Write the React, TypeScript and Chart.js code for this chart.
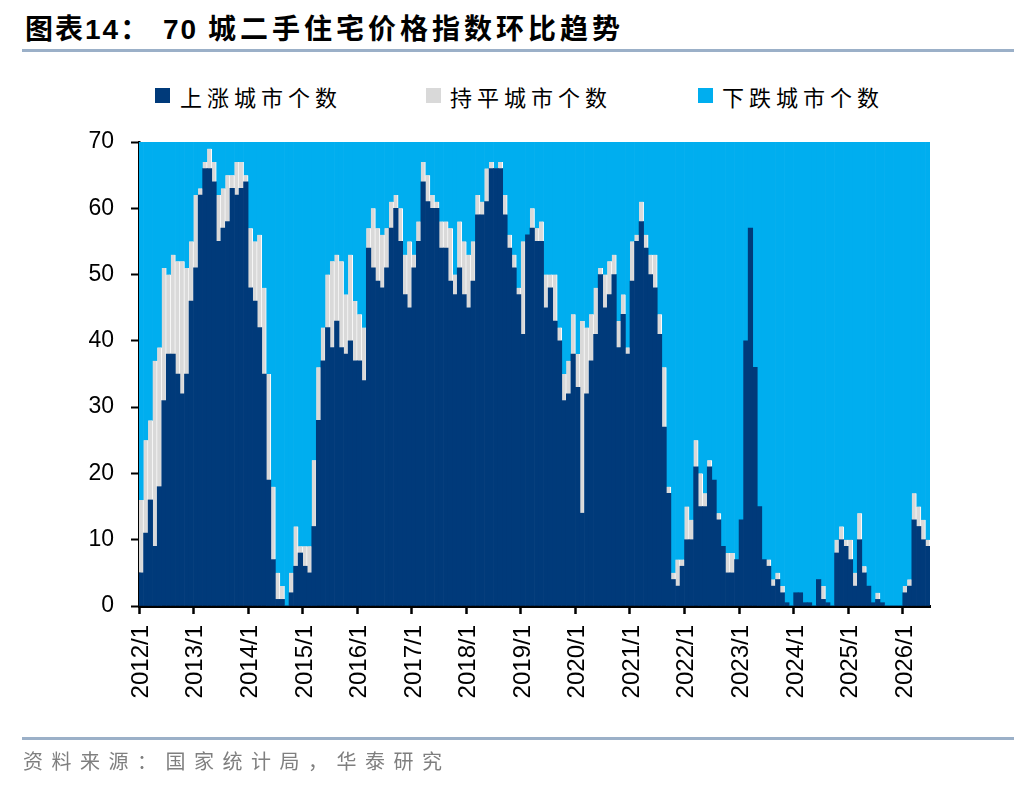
import React, { useEffect, useRef } from 'react';
import { Chart, registerables } from 'chart.js';

Chart.register(...registerables);

// monthly categories 2012/1 .. 2026/6
const YEARS = [2012, 2013, 2014, 2015, 2016, 2017, 2018, 2019, 2020, 2021, 2022, 2023, 2024, 2025, 2026];
const LAST_MONTH = 6;
const LABELS: string[] = [];
YEARS.forEach((y) => {
    const end = y === 2026 ? LAST_MONTH : 12;
    for (let m = 1; m <= end; m++) LABELS.push(`${y}/${m}`);
});

const SERIES_NAMES = ['上涨城市个数', '持平城市个数', '下跌城市个数'];
const COLORS = ['#003A7A', '#D9D9D9', '#00AEEF'];
const Y_TICKS = [0, 10, 20, 30, 40, 50, 60, 70];

// 上涨城市个数
const RISE = [
    5, 11, 16, 9, 18, 31, 38, 38, 35, 32, 35, 46, // 2012
    51, 62, 66, 66, 64, 55, 57, 58, 63, 62, 63, 64, // 2013
    48, 46, 42, 35, 19, 7, 1, 1, 0, 2, 6, 8, // 2014
    6, 5, 12, 28, 37, 42, 39, 43, 39, 38, 40, 37, // 2015
    37, 34, 54, 51, 49, 48, 51, 57, 60, 55, 47, 45, // 2016
    51, 55, 64, 61, 60, 60, 54, 54, 49, 47, 51, 47, // 2017
    45, 49, 59, 59, 61, 66, 66, 66, 59, 54, 51, 47, // 2018
    41, 56, 57, 55, 55, 45, 48, 43, 40, 31, 32, 38, // 2019
    33, 14, 32, 37, 41, 50, 45, 47, 50, 39, 44, 38, // 2020
    49, 55, 58, 54, 50, 48, 41, 27, 17, 4, 3, 6, // 2021
    10, 10, 21, 15, 15, 21, 19, 13, 9, 5, 5, 7, // 2022
    13, 40, 57, 36, 15, 7, 6, 3, 4, 2, 0.5, 0, // 2023
    2, 2, 0.5, 0.5, 0, 4, 1, 0.5, 0, 8, 10, 9, // 2024
    7, 3, 10, 5, 3, 0.5, 1, 0.5, 0, 0, 0, 0, // 2025
    2, 3, 13, 12, 10, 9, // 2026
];

// 持平城市个数
const FLAT = [
    11, 14, 12, 28, 21, 20, 12, 15, 17, 20, 16, 9,
    11, 1, 1, 3, 3, 7, 6, 7, 2, 5, 4, 1,
    9, 9, 14, 13, 16, 11, 4, 2, 0, 3, 6, 1,
    3, 4, 10, 8, 5, 8, 13, 10, 13, 9, 13, 9,
    7, 8, 3, 9, 8, 8, 6, 4, 2, 5, 6, 10,
    2, 3, 3, 4, 2, 1, 4, 4, 8, 3, 7, 8,
    8, 6, 3, 2, 5, 1, 0, 1, 3, 2, 2, 1,
    14, 0, 3, 2, 3, 5, 2, 7, 2, 4, 5, 6,
    5, 29, 10, 7, 7, 1, 5, 5, 3, 4, 3, 1,
    6, 1, 3, 2, 3, 5, 3, 9, 1, 1, 4, 1,
    5, 3, 4, 5, 2, 1, 0, 1, 0, 3, 3, 0,
    0, 0, 0, 0, 0, 0, 1, 1, 1, 1, 0, 0,
    0, 0, 0, 0, 0, 0, 2, 0, 0, 2, 2, 1,
    3, 2, 4, 1, 0, 0, 1, 0, 0, 0, 0, 0,
    1, 1, 4, 3, 3, 1,
];

// 下跌城市个数
const FALL = [
    54, 45, 42, 33, 31, 19, 20, 17, 18, 18, 19, 15,
    8, 7, 3, 1, 3, 8, 7, 5, 5, 3, 3, 5,
    13, 15, 14, 22, 35, 52, 65, 67, 70, 65, 58, 61,
    61, 61, 48, 34, 28, 20, 18, 17, 18, 23, 17, 24,
    26, 28, 13, 10, 13, 14, 13, 9, 8, 10, 17, 15,
    17, 12, 3, 5, 8, 9, 12, 12, 13, 20, 12, 15,
    17, 15, 8, 9, 4, 3, 4, 3, 8, 14, 17, 22,
    15, 14, 10, 13, 12, 20, 20, 20, 28, 35, 33, 26,
    32, 27, 28, 26, 22, 19, 20, 18, 17, 27, 23, 31,
    15, 14, 9, 14, 17, 17, 26, 34, 52, 65, 63, 63,
    55, 57, 45, 50, 53, 48, 51, 56, 61, 62, 62, 63,
    57, 30, 13, 34, 55, 63, 63, 66, 65, 67, 69.5, 70,
    68, 68, 69.5, 69.5, 70, 66, 67, 69.5, 70, 60, 58, 60,
    60, 65, 56, 64, 67, 69.5, 68, 69.5, 70, 70, 70, 70,
    67, 66, 53, 55, 57, 60,
];

const W = 1036;
const H = 792;
const TICK_FONT = '"Liberation Sans", Arial, sans-serif';
const CJK_FONT = '"Noto Sans CJK SC", "Noto Sans", sans-serif';

const App: React.FC = () => {
    const canvasRef = useRef<HTMLCanvasElement | null>(null);
    const chartRef = useRef<Chart | null>(null);

    useEffect(() => {
        if (!canvasRef.current) return;
        const ctx = canvasRef.current.getContext('2d');
        if (!ctx) return;
        if (chartRef.current) chartRef.current.destroy();

        chartRef.current = new Chart(ctx, {
            type: 'bar',
            data: {
                labels: LABELS,
                datasets: [
                    {
                        label: SERIES_NAMES[0],
                        data: RISE,
                        backgroundColor: COLORS[0],
                        borderWidth: 0,
                    },
                    {
                        label: SERIES_NAMES[1],
                        data: FLAT,
                        backgroundColor: COLORS[1],
                        borderColor: '#FFFFFF',
                        borderWidth: { top: 0, bottom: 0, left: 0, right: 1 },
                    },
                    {
                        label: SERIES_NAMES[2],
                        data: FALL,
                        backgroundColor: COLORS[2],
                        borderWidth: 0,
                    },
                ],
            },
            options: {
                responsive: true,
                maintainAspectRatio: false,
                animation: false,
                events: [],
                datasets: {
                    bar: {
                        categoryPercentage: 1,
                        barPercentage: 1,
                    },
                },
                layout: {
                    padding: { left: 139 - 90, top: 142, right: W - 930, bottom: H - 606 - 110 },
                },
                scales: {
                    x: {
                        stacked: true,
                        afterFit: (s: any) => { s.height = 110; },
                        grid: {
                            display: true,
                            offset: true,
                            drawOnChartArea: false,
                            drawTicks: true,
                            tickLength: 8,
                            tickWidth: 2.5,
                            tickColor: (c: any) => (c.index % 12 === 0 ? '#000000' : 'rgba(0,0,0,0)'),
                        },
                        border: { display: true, color: '#000000', width: 3 },
                        ticks: {
                            autoSkip: false,
                            minRotation: 90,
                            maxRotation: 90,
                            padding: 11,
                            color: '#000000',
                            font: { family: TICK_FONT, size: 24 },
                            callback: (_v: any, i: number) => (i % 12 === 0 ? LABELS[i] : ''),
                        },
                    },
                    y: {
                        stacked: true,
                        min: 0,
                        max: 70,
                        afterFit: (s: any) => { s.width = 90; },
                        afterBuildTicks: (s: any) => { s.ticks = Y_TICKS.map((v) => ({ value: v })); },
                        grid: {
                            display: true,
                            drawOnChartArea: false,
                            drawTicks: true,
                            tickLength: 8,
                            tickWidth: 2,
                            tickColor: '#000000',
                        },
                        border: { display: true, color: '#000000', width: 2.5 },
                        ticks: {
                            padding: 17,
                            color: '#000000',
                            font: { family: TICK_FONT, size: 23 },
                        },
                    },
                },
                plugins: {
                    legend: { display: false },
                    title: { display: false },
                    tooltip: { enabled: false },
                },
            },
        });

        return () => {
            if (chartRef.current) {
                chartRef.current.destroy();
                chartRef.current = null;
            }
        };
    }, []);

    const legendItems = [
        { sq: 155, tx: 180 },
        { sq: 426, tx: 450 },
        { sq: 698, tx: 722 },
    ];

    const titleFont = `"Liberation Sans", ${CJK_FONT}`;

    return (
        <div style={{ position: 'absolute', left: 0, top: 0, width: W, height: H, background: '#FFFFFF', overflow: 'hidden' }}>
            <div style={{ position: 'absolute', left: 25, top: 16, fontFamily: titleFont, fontWeight: 700, fontSize: 28, lineHeight: '28px', letterSpacing: 2, color: '#000', whiteSpace: 'nowrap' }}>
                图表14：
            </div>
            <div style={{ position: 'absolute', left: 163, top: 16, fontFamily: titleFont, fontWeight: 700, fontSize: 28, lineHeight: '28px', color: '#000', whiteSpace: 'pre' }}>
                <span style={{ letterSpacing: 2 }}>{'70 '}</span>
                <span style={{ letterSpacing: 4 }}>城二手住宅价格指数环比趋势</span>
            </div>
            <div style={{ position: 'absolute', left: 22, top: 49, width: 992, height: 3, background: '#9BB0C8' }} />

            {legendItems.map((it, i) => (
                <React.Fragment key={SERIES_NAMES[i]}>
                    <div style={{ position: 'absolute', left: it.sq, top: 88, width: 15, height: 15, background: COLORS[i] }} />
                    <div style={{ position: 'absolute', left: it.tx, top: 84, fontFamily: CJK_FONT, fontSize: 22, lineHeight: '24px', letterSpacing: 5, color: '#000', whiteSpace: 'nowrap' }}>
                        {SERIES_NAMES[i]}
                    </div>
                </React.Fragment>
            ))}

            <div style={{ position: 'absolute', left: 0, top: 0, width: W, height: H }}>
                <canvas ref={canvasRef} />
            </div>

            <div style={{ position: 'absolute', left: 22, top: 737, width: 992, height: 3, background: '#9BB0C8' }} />
            <div style={{ position: 'absolute', left: 23, top: 749, fontFamily: CJK_FONT, fontSize: 20, lineHeight: '24px', letterSpacing: 8.5, color: '#7F7F7F', whiteSpace: 'nowrap' }}>
                资料来源：国家统计局，华泰研究
            </div>
        </div>
    );
};

export default App;
